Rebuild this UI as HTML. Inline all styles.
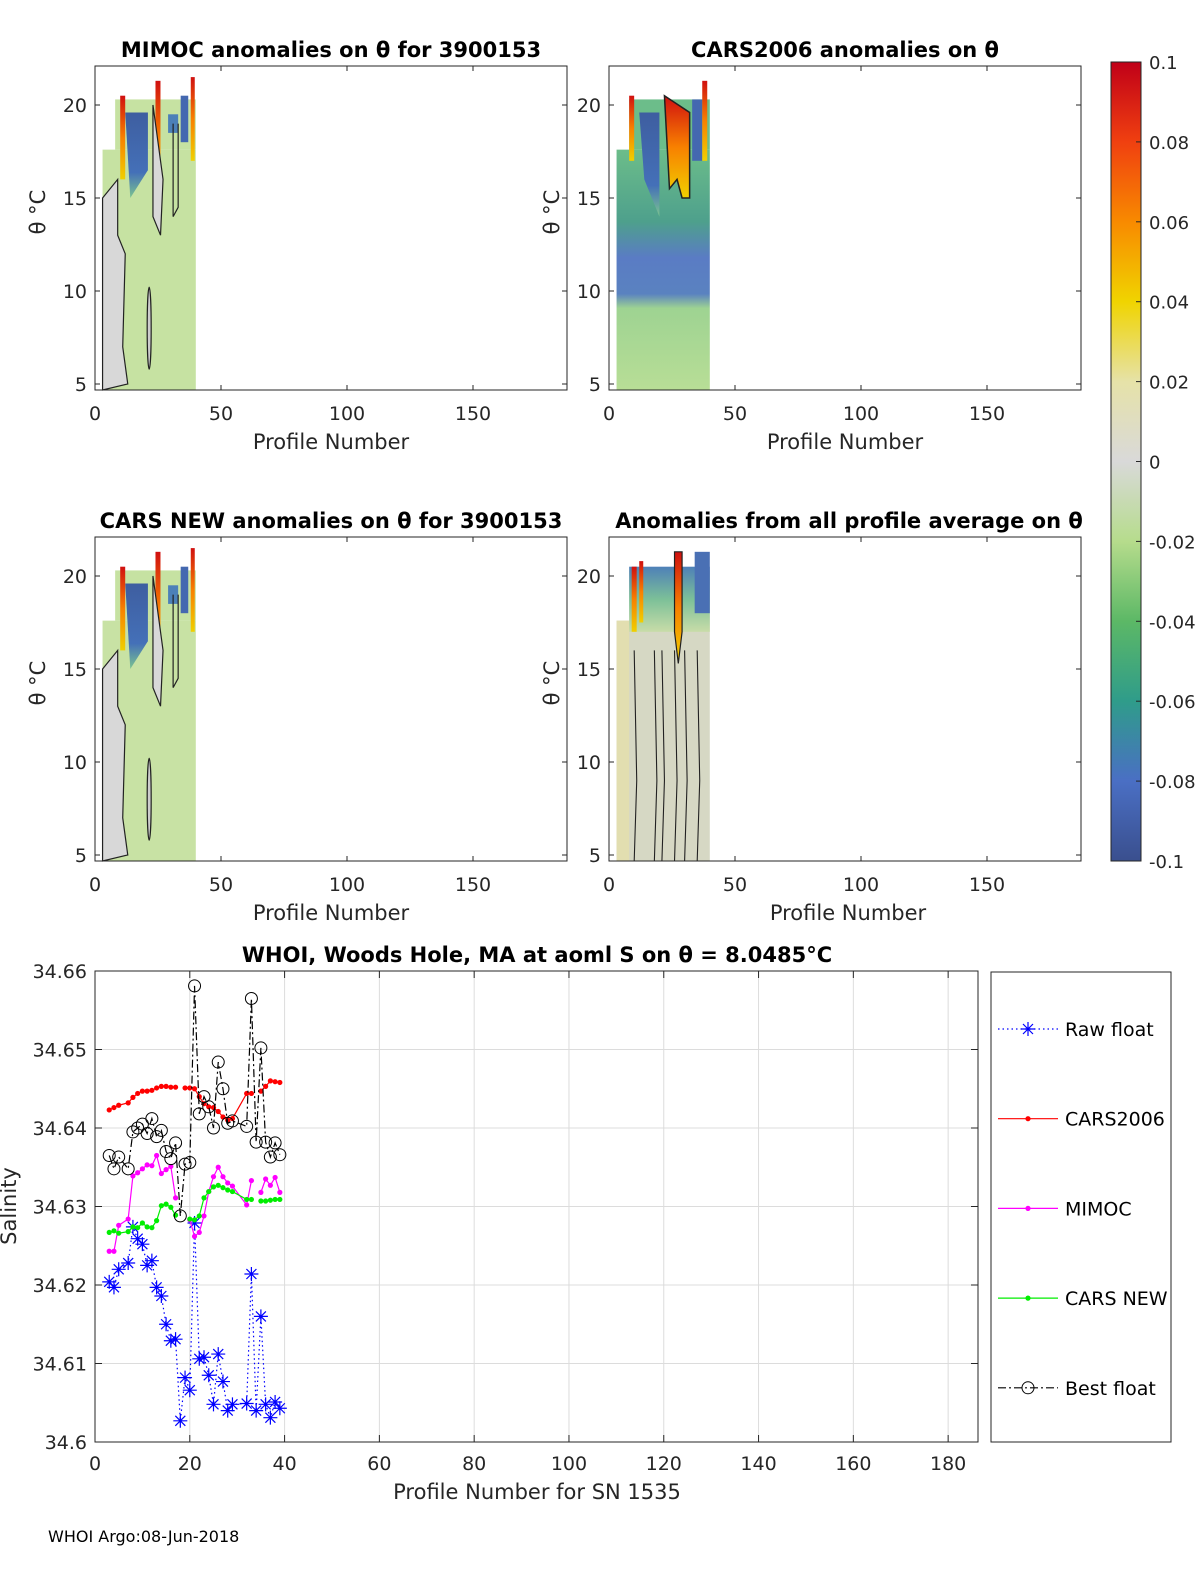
<!DOCTYPE html>
<html><head><meta charset="utf-8"><style>
body{margin:0;background:#fff;}
svg{display:block;font-family:"DejaVu Sans","Liberation Sans",sans-serif;}
</style></head><body>
<svg id="fig" width="1200" height="1575" viewBox="0 0 1200 1575" xmlns="http://www.w3.org/2000/svg">
<defs>
<linearGradient id="cbar" x1="0" y1="1" x2="0" y2="0">
<stop offset="0" stop-color="#3a4f8e"/><stop offset="0.1" stop-color="#4a6fc4"/>
<stop offset="0.2" stop-color="#2f9c8a"/><stop offset="0.3" stop-color="#5cb866"/>
<stop offset="0.4" stop-color="#b6dc8c"/><stop offset="0.5" stop-color="#d9d9d9"/>
<stop offset="0.6" stop-color="#e6e2a8"/><stop offset="0.7" stop-color="#f0d400"/>
<stop offset="0.8" stop-color="#f88a00"/><stop offset="0.9" stop-color="#f04010"/>
<stop offset="1" stop-color="#c00018"/>
</linearGradient>
<linearGradient id="hotcol" x1="0" y1="0" x2="0" y2="1">
<stop offset="0" stop-color="#d01010"/><stop offset="0.5" stop-color="#f88000"/><stop offset="1" stop-color="#f0d000"/>
</linearGradient>
<linearGradient id="bluetop" x1="0" y1="0" x2="0" y2="1">
<stop offset="0" stop-color="#3e5ea0"/><stop offset="0.7" stop-color="#4470b8"/><stop offset="1" stop-color="#7cc490"/>
</linearGradient>
<linearGradient id="p4top" x1="0" y1="0" x2="0" y2="1">
<stop offset="0" stop-color="#4e80b8"/><stop offset="0.5" stop-color="#7cc098"/><stop offset="1" stop-color="#c8dca8"/>
</linearGradient>
<linearGradient id="cars06" x1="0" y1="0" x2="0" y2="1">
<stop offset="0" stop-color="#6cbd8a"/><stop offset="0.3" stop-color="#4ea08c"/><stop offset="0.45" stop-color="#5a7cc4"/>
<stop offset="0.6" stop-color="#5a82c0"/><stop offset="0.66" stop-color="#9ed392"/><stop offset="1" stop-color="#b8de96"/>
</linearGradient>
</defs>
<g id="panels"></g>
<g id="bottom"></g>
</svg>
<script>
const NS="http://www.w3.org/2000/svg";
function el(tag,attrs,parent,text){const e=document.createElementNS(NS,tag);for(const k in attrs)e.setAttribute(k,attrs[k]);if(text!==undefined)e.textContent=text;parent.appendChild(e);return e;}

/* ---------- Top anomaly panels ---------- */
const panelTitles=["MIMOC anomalies on θ  for 3900153","CARS2006 anomalies on θ","CARS NEW anomalies on θ for 3900153","Anomalies from all profile average on θ"];
const panelXTicks=[0,50,100,150];
const panelYTicks=[5,10,15,20];
const colorbarTicks=[0.1,0.08,0.06,0.04,0.02,0,-0.02,-0.04,-0.06,-0.08,-0.1];
const panelsG=document.getElementById('panels');
const pos=[[95,66],[609,66],[95,537],[609,537]];
const PW=472,PH=324;
function px(p){return p*2.52;}
function py(t){return 318-(t-5)*18.6;}
pos.forEach((o,i)=>{
  const g=el('g',{transform:`translate(${o[0]},${o[1]})`},panelsG);
  
  
  const x0=px(3),x1=px(40);
  let base=['#c6e2a2','url(#cars06)','#c8e2a4','#d6d8c4'][i];
  el('rect',{x:x0,y:py(17.6),width:x1-x0,height:324-py(17.6),fill:base},g);
  el('rect',{x:px(8),y:py(20.3),width:x1-px(8),height:py(17.6)-py(20.3),fill:i==1?'#6cbd8a':(i==3?'#d6d8c4':'#c6e2a2')},g);
  if(i==0||i==2){
    el('path',{d:`M${x0} ${py(15)} L${px(9)} ${py(16)} L${px(9)} ${py(13)} L${px(12)} ${py(12)} L${px(11)} ${py(7)} L${px(13)} ${py(5)} L${x0} 324 Z`,fill:'#d8d8d8',stroke:'#222','stroke-width':1.2},g);
    el('path',{d:`M${px(12)} ${py(19.6)} L${px(21)} ${py(19.6)} L${px(21)} ${py(16.5)} L${px(14)} ${py(15)} Z`,fill:'url(#bluetop)'},g);
    el('rect',{x:px(34),y:py(20.5),width:px(3),height:py(18)-py(20.5),fill:'#4468b0'},g);
    el('rect',{x:px(29),y:py(19.5),width:px(4),height:py(18.5)-py(19.5),fill:'#4c80b8'},g);
    el('rect',{x:px(10),y:py(20.5),width:5,height:py(16)-py(20.5),fill:'url(#hotcol)'},g);
    el('rect',{x:px(24),y:py(21.3),width:5,height:py(15)-py(21.3),fill:'url(#hotcol)'},g);
    el('rect',{x:px(38),y:py(21.5),width:4,height:py(17)-py(21.5),fill:'url(#hotcol)'},g);
    el('path',{d:`M${px(23)} ${py(20)} L${px(23)} ${py(14)} L${px(26)} ${py(13)} L${px(27)} ${py(16)} Z`,fill:'#d8d8d8',stroke:'#222','stroke-width':1.2},g);
    el('path',{d:`M${px(31)} ${py(19)} L${px(31)} ${py(14)} L${px(33)} ${py(14.5)} L${px(33)} ${py(19)}`,fill:'none',stroke:'#222','stroke-width':1.2},g);
    el('ellipse',{cx:px(21.5),cy:py(8),rx:2,ry:(py(5.8)-py(10.2))/2,fill:'#ccc',stroke:'#222','stroke-width':1.2},g);
  } else if(i==1){
    el('path',{d:`M${px(12)} ${py(19.6)} L${px(20)} ${py(19.6)} L${px(20)} ${py(14)} L${px(14)} ${py(16)} Z`,fill:'url(#bluetop)'},g);
    el('path',{d:`M${px(22)} ${py(20.5)} L${px(32)} ${py(19.6)} L${px(32)} ${py(15)} L${px(29)} ${py(15)} L${px(27)} ${py(16)} L${px(24)} ${py(15.5)} Z`,fill:'url(#hotcol)',stroke:'#222','stroke-width':1.5},g);
    el('rect',{x:px(33),y:py(20.3),width:px(4),height:py(17)-py(20.3),fill:'#4468b0'},g);
    el('rect',{x:px(37),y:py(21.3),width:5,height:py(17)-py(21.3),fill:'url(#hotcol)'},g);
    el('rect',{x:px(8),y:py(20.5),width:5,height:py(17)-py(20.5),fill:'url(#hotcol)'},g);
  } else {
    el('rect',{x:x0,y:py(17.6),width:px(8)-x0,height:324-py(17.6),fill:'#e2deb0'},g);
    el('rect',{x:px(8),y:py(20.5),width:px(32),height:py(17)-py(20.5),fill:'url(#p4top)'},g);
    el('rect',{x:px(9),y:py(20.5),width:5,height:py(17)-py(20.5),fill:'url(#hotcol)'},g);
    el('rect',{x:px(12),y:py(20.8),width:4,height:py(17.5)-py(20.8),fill:'url(#hotcol)'},g);
    el('path',{d:`M${px(26)} ${py(21.3)} L${px(29)} ${py(21.3)} L${px(29)} ${py(17)} L${px(27.5)} ${py(15.3)} L${px(26)} ${py(17)} Z`,fill:'url(#hotcol)',stroke:'#222','stroke-width':1.2},g);
    el('rect',{x:px(34),y:py(21.3),width:px(6),height:py(18)-py(21.3),fill:'#4a70b4'},g);
    [10,18,21,26,30,35].forEach(p=>el('path',{d:`M${px(p)} ${py(16)} L${px(p+1)} ${py(9)} L${px(p)} 324`,fill:'none',stroke:'#222','stroke-width':1.1},g));
  }
  el('rect',{x:0,y:0,width:PW,height:PH,fill:'none',stroke:'#262626','stroke-width':1},g);
  panelXTicks.forEach(v=>{const x=px(v);
    el('line',{x1:x,y1:PH,x2:x,y2:PH-5,stroke:'#262626'},g);el('line',{x1:x,y1:0,x2:x,y2:5,stroke:'#262626'},g);
    const t=el('text',{x:x,y:PH+30,'font-size':19,'text-anchor':'middle',fill:'#262626'},g,String(v));
    });
  panelYTicks.forEach(v=>{const y=py(v);
    el('line',{x1:0,y1:y,x2:5,y2:y,stroke:'#262626'},g);el('line',{x1:PW,y1:y,x2:PW-5,y2:y,stroke:'#262626'},g);
    const t=el('text',{x:-8,y:y+7,'font-size':19,'text-anchor':'end',fill:'#262626'},g,String(v));
    });
  const xl=el('text',{x:PW/2+(i==3?3:0),y:PH+59,'font-size':21,'text-anchor':'middle',fill:'#262626'},g,'Profile Number');
  
  const yl=el('text',{transform:`translate(-50,${PH/2-16}) rotate(-90)`,'font-size':21,'text-anchor':'middle',fill:'#262626'},g,'θ °C');
  
  const tt=el('text',{x:(i==2?236:(i==3?240:236)),y:-9,'font-size':21,'font-weight':'bold','text-anchor':'middle',fill:'#000'},g,panelTitles[i]);
  
});
const cb=el('g',{},panelsG);

el('rect',{x:1111,y:62,width:30,height:799,fill:'url(#cbar)',stroke:'#262626'},cb);
colorbarTicks.forEach(v=>{const y=861-(v+0.1)/0.2*799;
  el('line',{x1:1136,y1:y,x2:1141,y2:y,stroke:'#262626'},cb);
  const t=el('text',{x:1149,y:y+7,'font-size':18,fill:'#262626'},cb,String(v));
  });

/* ---------- Bottom salinity chart ---------- */
const profiles=[3,4,5,7,8,9,10,11,12,13,14,15,16,17,18,19,20,21,22,23,24,25,26,27,28,29,32,33,34,35,36,37,38,39];
const rawFloat=[34.6204,34.6197,34.6220,34.6228,34.6274,34.6259,34.6252,34.6225,34.6231,34.6197,34.6186,34.6150,34.6129,34.6131,34.6027,34.6082,34.6066,34.6279,34.6106,34.6108,34.6085,34.6048,34.6112,34.6077,34.6040,34.6048,34.6049,34.6214,34.6040,34.6160,34.6048,34.6031,34.6051,34.6043];
const bestFloat=[34.6365,34.6348,34.6363,34.6348,34.6395,34.6400,34.6405,34.6393,34.6412,34.6389,34.6397,34.6370,34.6361,34.6381,34.6288,34.6354,34.6356,34.6581,34.6418,34.6440,34.6427,34.6400,34.6484,34.6450,34.6406,34.6409,34.6402,34.6565,34.6382,34.6502,34.6382,34.6363,34.6381,34.6366];
const cars2006=[34.6423,34.6426,34.6429,34.6432,34.6439,34.6444,34.6447,34.6447,34.6448,34.6451,34.6453,34.6453,34.6452,34.6452,null,34.6451,34.6451,34.6450,34.6440,34.6431,34.6427,34.6426,34.6421,34.6414,34.6410,34.6412,34.6444,34.6444,null,34.6447,34.6453,34.6460,34.6459,34.6458];
const mimoc=[34.6243,34.6243,34.6276,34.6284,34.6339,34.6343,34.6348,34.6353,34.6352,34.6365,34.6342,34.6347,34.6351,34.6311,null,null,34.6283,34.6262,34.6267,34.6288,34.6319,34.6338,34.6350,34.6338,34.6330,34.6326,34.6302,34.6333,null,34.6318,34.6335,34.6327,34.6337,34.6318];
const carsNew=[34.6267,34.6269,34.6266,34.6268,34.6274,34.6273,34.6279,34.6274,34.6273,34.6282,34.6301,34.6303,34.6299,34.6289,null,null,34.6284,34.6283,34.6288,34.6311,34.6319,34.6325,34.6327,34.6324,34.6321,34.6319,34.6309,34.6309,null,34.6307,34.6307,34.6308,34.6309,34.6309];
const xTicks=[0,20,40,60,80,100,120,140,160,180];
const yTicks=[34.6,34.61,34.62,34.63,34.64,34.65,34.66];
const B=document.getElementById('bottom');
const L=95,R=978,T=971,Bt=1442,XMAX=186.3,YMIN=34.6,YMAX=34.66;
const X=v=>L+v/XMAX*(R-L);
const Y=v=>Bt-(v-YMIN)/(YMAX-YMIN)*(Bt-T);
el('rect',{x:L,y:T,width:R-L,height:Bt-T,fill:'#fff'},B);
xTicks.forEach(v=>{const gl=el('line',{x1:X(v),y1:T,x2:X(v),y2:Bt,stroke:'#dcdcdc'},B);
  
  el('line',{x1:X(v),y1:Bt,x2:X(v),y2:Bt-7,stroke:'#262626'},B);el('line',{x1:X(v),y1:T,x2:X(v),y2:T+7,stroke:'#262626'},B);
  const t=el('text',{x:X(v),y:Bt+28,'font-size':19,'text-anchor':'middle',fill:'#262626'},B,String(v));
  });
yTicks.forEach(v=>{const gl=el('line',{x1:L,y1:Y(v),x2:R,y2:Y(v),stroke:'#dcdcdc'},B);
  
  el('line',{x1:L,y1:Y(v),x2:L+7,y2:Y(v),stroke:'#262626'},B);el('line',{x1:R,y1:Y(v),x2:R-7,y2:Y(v),stroke:'#262626'},B);
  const t=el('text',{x:L-8,y:Y(v)+7,'font-size':19,'text-anchor':'end',fill:'#262626'},B,String(v));
  });
el('rect',{x:L,y:T,width:R-L,height:Bt-T,fill:'none',stroke:'#262626'},B);
function linePath(vals,breakNull){let d='',pen=false;vals.forEach((v,i)=>{if(v===null){if(breakNull)pen=false;return;}d+=(pen?'L':'M')+X(profiles[i])+' '+Y(v)+' ';pen=true;});return d;}
function series(name,vals,color,dash,marker,breakNull){
  const g=el('g',{},B);
  
  el('path',{d:linePath(vals,breakNull),fill:'none',stroke:color,'stroke-width':1.2,'stroke-dasharray':dash},g);
  vals.forEach((v,i)=>{if(v===null)return;drawMarker(g,marker,X(profiles[i]),Y(v),color);});
}
function drawMarker(g,m,x,y,c){
  if(m==='dot')el('circle',{cx:x,cy:y,r:2.6,fill:c},g);
  else if(m==='circle')el('circle',{cx:x,cy:y,r:6,fill:'none',stroke:c,'stroke-width':1},g);
  else if(m==='star'){const r=7;el('path',{d:`M${x-r} ${y}H${x+r}M${x} ${y-r}V${y+r}M${x-5} ${y-5}L${x+5} ${y+5}M${x-5} ${y+5}L${x+5} ${y-5}`,stroke:c,'stroke-width':1.2},g);}
}
series('raw-float-series',rawFloat,'#0000ff','1.5 3','star',false);
series('cars2006-series',cars2006,'#ff0000','none','dot',true);
series('mimoc-series',mimoc,'#ff00ff','none','dot',true);
series('cars-new-series',carsNew,'#00ee00','none','dot',true);
series('best-float-series',bestFloat,'#000000','8 3 2 3','circle',false);
const bt=el('text',{x:537,y:962,'font-size':21,'font-weight':'bold','text-anchor':'middle',fill:'#000'},B,'WHOI, Woods Hole, MA at aoml S on θ = 8.0485°C');

const bx=el('text',{x:537,y:1499,'font-size':21,'text-anchor':'middle',fill:'#262626'},B,'Profile Number for SN 1535');

const by=el('text',{transform:'translate(16,1206) rotate(-90)','font-size':21,'text-anchor':'middle',fill:'#262626'},B,'Salinity');

const lg=el('g',{},B);

el('rect',{x:991,y:972,width:180,height:470,fill:'#fff',stroke:'#262626'},lg);
const legendNames=['Raw float','CARS2006','MIMOC','CARS NEW','Best float'];
const legendColors=['#0000ff','#ff0000','#ff00ff','#00ee00','#000000'];
const legendDash=['1.5 3','none','none','none','8 3 2 3'];
const legendMarker=['star','dot','dot','dot','circle'];
legendNames.forEach((n,i)=>{const y=1029+i*89.7;
  const e=el('g',{},lg);
  
  el('line',{x1:998,y1:y,x2:1058,y2:y,stroke:legendColors[i],'stroke-width':1.2,'stroke-dasharray':legendDash[i]},e);
  drawMarker(e,legendMarker[i],1028,y,legendColors[i]);
  el('text',{x:1065,y:y+7,'font-size':19,fill:'#000'},e,n);});
const ft=el('text',{x:48,y:1542,'font-size':16,fill:'#000'},B,'WHOI Argo:08-Jun-2018');

</script>
</body></html>
